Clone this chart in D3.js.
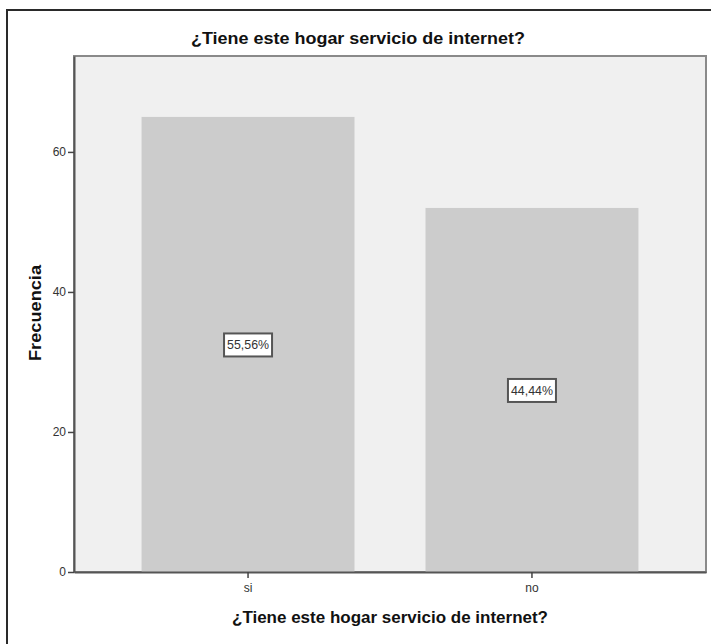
<!DOCTYPE html>
<html>
<head>
<meta charset="utf-8">
<script src="https://cdn.jsdelivr.net/npm/d3@7"></script>
<style>
  body { margin: 0; background: #fff; }
  svg { display: block; font-family: "Liberation Sans", Arial, sans-serif; }
</style>
</head>
<body>
<script>
// data
var categories = ["si", "no"];
var counts = [65, 52];
var percentLabels = ["55,56%", "44,44%"];
var yTicks = [0, 20, 40, 60];
var chartTitle = "¿Tiene este hogar servicio de internet?";
var xTitle = "¿Tiene este hogar servicio de internet?";
var yTitle = "Frecuencia";

var W = 711, H = 644;
var plot = { left: 74, right: 706, top: 56, bottom: 572 };

var svg = d3.select("body").append("svg")
  .attr("width", W)
  .attr("height", H);

// outer frame (clipped on the right and bottom like the original)
svg.append("rect")
  .attr("x", 7).attr("y", 10)
  .attr("width", 720).attr("height", 650)
  .attr("fill", "#fff")
  .attr("stroke", "#2a2a2a")
  .attr("stroke-width", 2);

var x = d3.scaleBand()
  .domain(categories)
  .range([plot.left, plot.right])
  .paddingInner(0.25)
  .paddingOuter(0.238);

var y = d3.scaleLinear()
  .domain([0, 73.7])
  .range([plot.bottom, plot.top]);

// plot background
svg.append("rect")
  .attr("x", plot.left).attr("y", plot.top)
  .attr("width", plot.right - plot.left)
  .attr("height", plot.bottom - plot.top)
  .attr("fill", "#f0f0f0")
  .attr("stroke", "#8a8a8a")
  .attr("stroke-width", 2);

// bars
svg.selectAll("rect.bar")
  .data(counts)
  .enter().append("rect")
  .attr("class", "bar")
  .attr("x", function (d, i) { return x(categories[i]); })
  .attr("y", function (d) { return y(d); })
  .attr("width", x.bandwidth())
  .attr("height", function (d) { return plot.bottom - y(d); })
  .attr("fill", "#cccccc");

// axes
var yAxis = svg.append("g")
  .attr("transform", "translate(" + plot.left + ",0)")
  .call(d3.axisLeft(y).tickValues(yTicks).tickSize(6).tickSizeOuter(0).tickPadding(2));
var xAxis = svg.append("g")
  .attr("transform", "translate(0," + plot.bottom + ")")
  .call(d3.axisBottom(x).tickSize(6).tickSizeOuter(0).tickPadding(5));

[yAxis, xAxis].forEach(function (g) {
  g.select(".domain").attr("stroke", "#555").attr("stroke-width", 2);
  g.selectAll(".tick line").attr("stroke", "#444").attr("stroke-width", 1.5);
  g.selectAll(".tick text")
    .attr("fill", "#333")
    .style("font-size", "12px");
});

// percent labels in the middle of each bar
var labels = svg.selectAll("g.lbl")
  .data(counts)
  .enter().append("g")
  .attr("class", "lbl")
  .attr("transform", function (d, i) {
    return "translate(" + (x(categories[i]) + x.bandwidth() / 2) + "," + y(d / 2) + ")";
  });
labels.append("rect")
  .attr("x", -24).attr("y", -11)
  .attr("width", 48).attr("height", 23)
  .attr("fill", "#fff")
  .attr("stroke", "#555")
  .attr("stroke-width", 2);
labels.append("text")
  .attr("text-anchor", "middle")
  .attr("dy", "0.36em")
  .attr("fill", "#333")
  .attr("textLength", 42)
  .attr("lengthAdjust", "spacingAndGlyphs")
  .style("font-size", "13px")
  .text(function (d, i) { return percentLabels[i]; });

// titles
svg.append("text")
  .attr("x", 358).attr("y", 44)
  .attr("text-anchor", "middle")
  .attr("textLength", 334)
  .attr("lengthAdjust", "spacingAndGlyphs")
  .style("font-size", "16px")
  .style("font-weight", "bold")
  .attr("fill", "#111")
  .text(chartTitle);

svg.append("text")
  .attr("x", 390).attr("y", 623)
  .attr("text-anchor", "middle")
  .attr("textLength", 316)
  .attr("lengthAdjust", "spacingAndGlyphs")
  .style("font-size", "16px")
  .style("font-weight", "bold")
  .attr("fill", "#111")
  .text(xTitle);

svg.append("text")
  .attr("transform", "translate(41,313) rotate(-90)")
  .attr("text-anchor", "middle")
  .attr("textLength", 96)
  .attr("lengthAdjust", "spacingAndGlyphs")
  .style("font-size", "16px")
  .style("font-weight", "bold")
  .attr("fill", "#111")
  .text(yTitle);
</script>
</body>
</html>
